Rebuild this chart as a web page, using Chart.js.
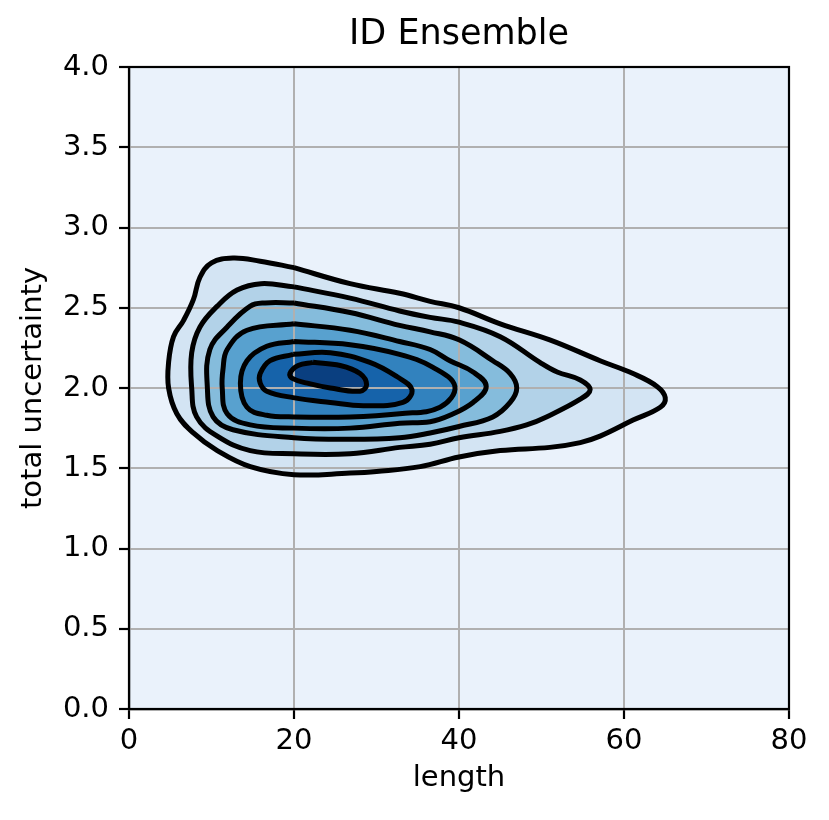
<!DOCTYPE html>
<html>
<head>
<meta charset="utf-8">
<script src="https://cdn.jsdelivr.net/npm/chart.js@4.4.0/dist/chart.umd.min.js"></script>
<style>
  html, body { margin: 0; padding: 0; background: #fff; }
  canvas { display: block; }
</style>
</head>
<body>
<canvas id="chart" width="829" height="820"></canvas>
<script>
// KDE contour lines, outermost (1) to innermost (7), points as [length, total uncertainty]
let level1 = [[20,2.75],[26.8,2.65],[32.8,2.59],[36.5,2.54],[40,2.50],[45,2.40],[51,2.30],[57.1,2.17],[61.1,2.09],[64,2.01],[65,1.94],[64.4,1.88],[61.1,1.80],[57.1,1.70],[54.7,1.66],[51,1.63],[45,1.61],[40,1.57],[35.3,1.51],[30,1.48],[26.8,1.47],[20,1.46],[14.7,1.51],[10.7,1.61],[7.8,1.72],[5.8,1.84],[4.8,2.0],[4.8,2.16],[5.4,2.32],[6.6,2.42],[7.8,2.55],[8.6,2.69],[10,2.78],[12.6,2.81],[15.9,2.79],[20,2.75]];
let level2 = [[20,2.63],[26.8,2.56],[32.8,2.48],[36.5,2.44],[40,2.41],[45,2.32],[49.8,2.16],[51.9,2.10],[54.7,2.05],[55.9,1.99],[54.7,1.93],[50.6,1.82],[48.2,1.77],[45,1.73],[40,1.69],[36.5,1.65],[32.8,1.63],[26.8,1.59],[20,1.59],[14.7,1.61],[10.7,1.70],[8.2,1.82],[7.6,2.0],[7.6,2.22],[8.6,2.38],[10.7,2.51],[13.1,2.61],[16,2.65],[20,2.63]];
let level3 = [[20,2.53],[26.8,2.47],[32.8,2.39],[36.5,2.35],[40,2.30],[44.1,2.17],[46.2,2.09],[47,2.0],[46.2,1.91],[44.1,1.82],[40,1.76],[36.5,1.72],[32.8,1.69],[26.8,1.68],[20,1.69],[12.6,1.74],[10.2,1.82],[9.5,2.0],[9.8,2.24],[11.9,2.38],[14.7,2.51],[16.5,2.53],[20,2.53]];
let level4 = [[20,2.40],[26.8,2.36],[32.8,2.29],[36.5,2.24],[38.9,2.17],[41.7,2.10],[43.3,2.01],[41.7,1.91],[38.9,1.83],[36.5,1.79],[32.8,1.78],[26.8,1.75],[20,1.75],[14.7,1.77],[11.9,1.84],[11.3,2.0],[11.4,2.12],[11.9,2.24],[14.3,2.36],[20,2.40]];
let level5 = [[20,2.29],[26.8,2.27],[32.8,2.21],[36.8,2.13],[39.5,2.01],[37.7,1.88],[32.8,1.84],[26.8,1.82],[20,1.82],[16.7,1.83],[14.3,1.88],[13.5,2.03],[14.3,2.17],[16.7,2.26],[20,2.29]];
let level6 = [[19.9,2.21],[24.4,2.22],[29.2,2.16],[32.5,2.07],[34.3,1.99],[33.2,1.91],[28.4,1.89],[24.4,1.91],[19.9,1.94],[16.7,1.98],[15.9,2.03],[15.9,2.09],[17.1,2.17],[19.9,2.21]];
let level7 = [[22.3,2.16],[25.6,2.14],[28,2.09],[28.8,2.02],[28,1.98],[24.4,2.0],[21.6,2.03],[19.8,2.06],[19.5,2.09],[20.5,2.14],[22.3,2.16]];

let levels = [level1, level2, level3, level4, level5, level6, level7];
let fillColors = ['#d3e4f3', '#b2d2e8', '#85bcdc', '#58a1cf', '#3282be', '#1663aa', '#0a3f80'];
let xTicks = [0, 20, 40, 60, 80];
let yTicks = [0, 0.5, 1, 1.5, 2, 2.5, 3, 3.5, 4];

Chart.defaults.font.family = "'DejaVu Sans', sans-serif";
Chart.defaults.color = '#000';

let datasets = [];
// filled bands: higher order is drawn first, so outer band goes under inner ones
levels.forEach((pts, i) => {
    datasets.push({
        data: pts.map(p => ({x: p[0], y: p[1]})),
        showLine: true,
        fill: 'shape',
        backgroundColor: fillColors[i],
        borderColor: 'rgba(0,0,0,0)',
        borderWidth: 0,
        pointRadius: 0,
        tension: 0.4,
        order: 20 - i,
        lastFill: i === levels.length - 1
    });
});
levels.forEach(pts => {
    datasets.push({
        data: pts.map(p => ({x: p[0], y: p[1]})),
        showLine: true,
        fill: false,
        borderColor: '#000',
        borderWidth: 5,
        pointRadius: 0,
        tension: 0.4,
        order: 1
    });
});

// plot background
let plotBg = {
    id: 'plotBg',
    beforeDraw(chart) {
        let {ctx, chartArea: a} = chart;
        ctx.save();
        ctx.fillStyle = '#fff';
        ctx.fillRect(0, 0, chart.width, chart.height);
        ctx.fillStyle = '#eaf2fb';
        ctx.fillRect(a.left, a.top, a.right - a.left, a.bottom - a.top);
        ctx.restore();
    }
};

// center the title over the plot area, not the whole canvas
let titleOverPlot = {
    id: 'titleOverPlot',
    afterLayout(chart) {
        let t = chart.titleBlock;
        if (!t) return;
        t.left = chart.chartArea.left;
        t.right = chart.chartArea.right;
        t.width = t.right - t.left;
    }
};

// grid sits above the fills but under the black contour lines
let gridOverFill = {
    id: 'gridOverFill',
    afterDatasetDraw(chart, args) {
        if (!chart.data.datasets[args.index].lastFill) return;
        let {ctx, chartArea: a, scales} = chart;
        ctx.save();
        ctx.strokeStyle = '#b0b0b0';
        ctx.lineWidth = 2;
        ctx.beginPath();
        xTicks.forEach(v => {
            let px = Math.round(scales.x.getPixelForValue(v));
            ctx.moveTo(px, a.top);
            ctx.lineTo(px, a.bottom);
        });
        yTicks.forEach(v => {
            let py = Math.round(scales.y.getPixelForValue(v));
            ctx.moveTo(a.left, py);
            ctx.lineTo(a.right, py);
        });
        ctx.stroke();
        ctx.restore();
    }
};

// black frame around the axes
let frame = {
    id: 'frame',
    afterDraw(chart) {
        let {ctx, chartArea: a} = chart;
        ctx.save();
        ctx.strokeStyle = '#000';
        ctx.lineWidth = 2.2;
        ctx.strokeRect(a.left, a.top, a.right - a.left, a.bottom - a.top);
        ctx.restore();
    }
};

new Chart(document.getElementById('chart'), {
    type: 'scatter',
    data: { datasets: datasets },
    options: {
        responsive: false,
        animation: false,
        events: [],
        layout: { padding: { left: 0, right: 40, top: 0, bottom: 0 } },
        plugins: {
            legend: { display: false },
            tooltip: { enabled: false },
            title: {
                display: true,
                text: 'ID Ensemble',
                font: { size: 35, weight: 'normal' },
                color: '#000',
                padding: { top: 14, bottom: 11 }
            }
        },
        scales: {
            x: {
                type: 'linear',
                min: xTicks[0],
                max: xTicks[xTicks.length - 1],
                afterFit: s => { s.height = 111; },
                ticks: { stepSize: 20, font: { size: 29 }, padding: 5, color: '#000' },
                grid: { color: '#b0b0b0', lineWidth: 2, tickColor: '#000', tickLength: 10, tickWidth: 2.2 },
                border: { color: '#000', width: 2.2 },
                title: { display: true, text: 'length', font: { size: 29 }, color: '#000', padding: { top: 0, bottom: 24 } }
            },
            y: {
                type: 'linear',
                min: yTicks[0],
                max: yTicks[yTicks.length - 1],
                afterFit: s => { s.width = 129; },
                ticks: { stepSize: 0.5, font: { size: 29 }, padding: 10, color: '#000', callback: v => v.toFixed(1) },
                grid: { color: '#b0b0b0', lineWidth: 2, tickColor: '#000', tickLength: 10, tickWidth: 2.2 },
                border: { color: '#000', width: 2.2 },
                title: { display: true, text: 'total uncertainty', font: { size: 29 }, color: '#000', padding: { top: 16, bottom: 0 } }
            }
        }
    },
    plugins: [plotBg, titleOverPlot, gridOverFill, frame]
});
</script>
</body>
</html>
